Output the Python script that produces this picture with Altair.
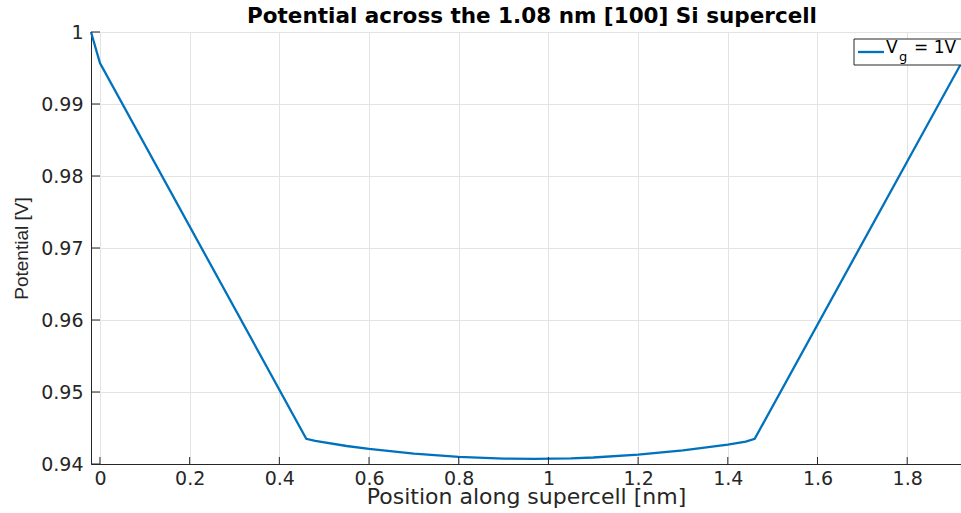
import altair as alt
import pandas as pd

# Electrostatic potential sampled along the supercell
position_nm = [-0.02, 0.0, 0.46, 0.48, 0.55, 0.60, 0.70, 0.80, 0.90, 0.97,
               1.05, 1.10, 1.20, 1.30, 1.40, 1.44, 1.46, 1.92]
potential_v = [1.0, 0.9957, 0.9435, 0.9432, 0.9425, 0.9421, 0.94145, 0.9410,
               0.94075, 0.9407, 0.94078, 0.9409, 0.9413, 0.9419, 0.9427,
               0.9431, 0.9435, 0.9956]

# Tick values
x_ticks = [0, 0.2, 0.4, 0.6, 0.8, 1.0, 1.2, 1.4, 1.6, 1.8]
y_ticks = [0.94, 0.95, 0.96, 0.97, 0.98, 0.99, 1.0]

# Legend label pieces: "V" with subscript "g", then "= 1V"
legend_main = "V"
legend_sub = "g"
legend_rest = "= 1V"

chart_title = "Potential across the 1.08 nm [100] Si supercell"

LINE_COLOR = "#0072BD"
AXIS_COLOR = "#262626"
W, H = 870, 432

df = pd.DataFrame({"x": position_nm, "y": potential_v})
xs = alt.Scale(domain=[-0.02, 1.92], nice=False, zero=False)
ys = alt.Scale(domain=[0.94, 1.0], nice=False, zero=False)

x_axis = alt.Axis(
    values=x_ticks, format="~g", title="Position along supercell [nm]",
    grid=True, ticks=False, tickSize=0,
    labelBaseline="alphabetic", labelPadding=20,
    titleBaseline="alphabetic", titleY=39,
)
y_axis = alt.Axis(
    values=y_ticks, format="~g", title="Potential [V]",
    grid=True, ticks=False, tickSize=0,
    labelPadding=8, labelBaseline="middle",
    titleBaseline="alphabetic", titleX=-64, titleY=H / 2,
    titleAngle=270,
    titleFont="Liberation Sans", titleFontSize=19,
)

line = alt.Chart(df).mark_line(color=LINE_COLOR, strokeWidth=2.3).encode(
    x=alt.X("x:Q", scale=xs, axis=x_axis),
    y=alt.Y("y:Q", scale=ys, axis=y_axis),
)

# Inward-pointing tick marks
x_tick_marks = alt.Chart(pd.DataFrame({"x": x_ticks})).mark_rule(
    color=AXIS_COLOR, strokeWidth=1
).encode(
    x=alt.X("x:Q", scale=xs, axis=x_axis),
    y=alt.value(H),
    y2=alt.value(H - 7),
)
y_tick_marks = alt.Chart(pd.DataFrame({"y": y_ticks})).mark_rule(
    color=AXIS_COLOR, strokeWidth=1
).encode(
    y=alt.Y("y:Q", scale=ys, axis=y_axis),
    x=alt.value(0),
    x2=alt.value(9),
)

one = pd.DataFrame({"a": [0]})

# Title drawn as a text mark above the plot area
title_mark = alt.Chart(one).mark_text(
    align="center", baseline="alphabetic", font="DejaVu Sans",
    fontSize=21.5, fontWeight="bold", color="black",
).encode(x=alt.value(W / 2 + 6), y=alt.value(-9), text=alt.value(chart_title))

# Legend box in the upper-right corner
legend_box = alt.Chart(one).mark_rect(
    fill="white", stroke=AXIS_COLOR, strokeWidth=1
).encode(
    x=alt.value(763), x2=alt.value(885), y=alt.value(7), y2=alt.value(33)
)
legend_line = alt.Chart(one).mark_rule(color=LINE_COLOR, strokeWidth=2.3).encode(
    x=alt.value(767), x2=alt.value(793), y=alt.value(20)
)
text_style = dict(align="left", baseline="alphabetic", font="DejaVu Sans",
                  color="black")
legend_v = alt.Chart(one).mark_text(fontSize=17, **text_style).encode(
    x=alt.value(795), y=alt.value(21), text=alt.value(legend_main)
)
legend_g = alt.Chart(one).mark_text(fontSize=13, **text_style).encode(
    x=alt.value(808), y=alt.value(29), text=alt.value(legend_sub)
)
legend_r = alt.Chart(one).mark_text(fontSize=17, **text_style).encode(
    x=alt.value(823), y=alt.value(21), text=alt.value(legend_rest)
)

chart = alt.layer(
    line, x_tick_marks, y_tick_marks, title_mark,
    legend_box, legend_line, legend_v, legend_g, legend_r,
).properties(
    width=W,
    height=H,
    autosize=alt.AutoSizeParams(type="none"),
    padding={"left": 91, "top": 32, "right": 0, "bottom": 49},
    background="white",
).configure_view(
    stroke=None
).configure_axis(
    domainColor=AXIS_COLOR,
    domainWidth=1,
    gridColor="#e3e3e3",
    gridWidth=1,
    labelFont="DejaVu Sans",
    labelFontSize=19,
    labelColor=AXIS_COLOR,
    titleFont="DejaVu Sans",
    titleFontSize=22,
    titleFontWeight="normal",
    titleColor=AXIS_COLOR,
)

chart.save("out.html", embed_options={"renderer": "svg", "actions": False})
